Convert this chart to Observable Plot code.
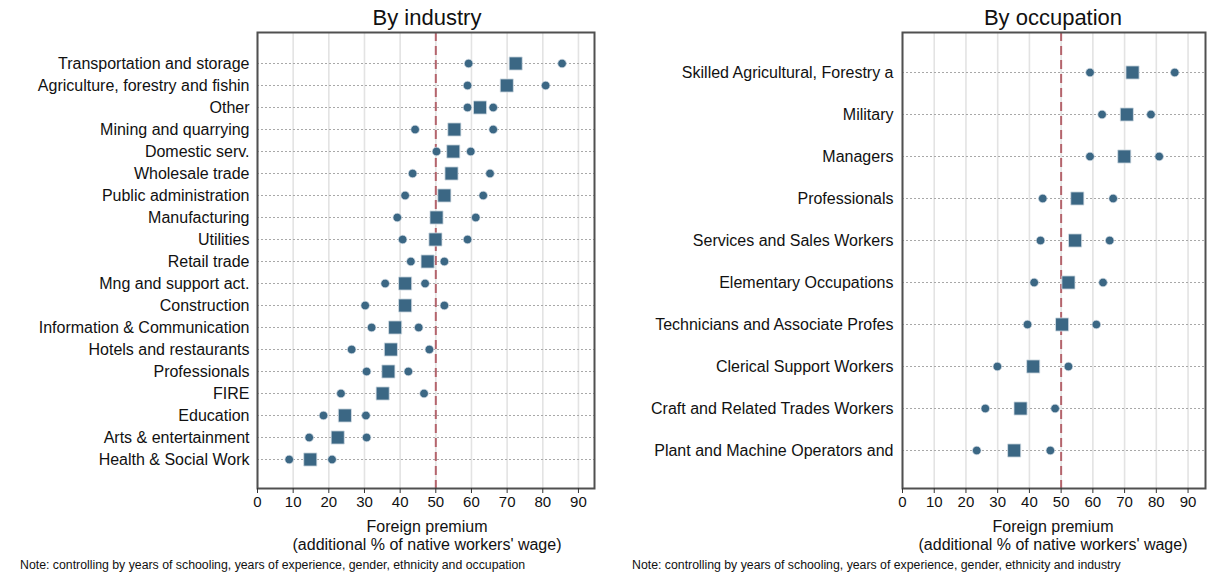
<!DOCTYPE html>
<html>
<head>
<meta charset="utf-8">
<script src="https://cdn.jsdelivr.net/npm/d3@7"></script>
<script src="https://cdn.jsdelivr.net/npm/@observablehq/plot@0.6"></script>
<style>
  html, body { margin: 0; padding: 0; background: #fff; }
  #wrap { position: relative; width: 1225px; height: 575px; font-family: "Liberation Sans", Arial, sans-serif; color: #111; overflow: hidden; }
  .panel { position: absolute; top: 0; }
  .title { position: absolute; top: 6px; font-size: 22px; line-height: 24px; text-align: center; width: 400px; }
  .xlab { position: absolute; top: 518px; font-size: 16px; line-height: 18px; text-align: center; width: 400px; }
  .note { position: absolute; top: 558px; font-size: 12.3px; line-height: 14px; white-space: nowrap; }
</style>
</head>
<body>
<div id="wrap">
  <div class="title" style="left:227px">By industry</div>
  <div class="title" style="left:853px">By occupation</div>
  <div class="xlab" style="left:227px">Foreign premium<br>(additional % of native workers' wage)</div>
  <div class="xlab" style="left:853px">Foreign premium<br>(additional % of native workers' wage)</div>
  <div class="note" style="left:20px">Note: controlling by years of schooling, years of experience, gender, ethnicity and occupation</div>
  <div class="note" style="left:632px">Note: controlling by years of schooling, years of experience, gender, ethnicity and industry</div>
</div>
<script>
const xTicks = [0, 10, 20, 30, 40, 50, 60, 70, 80, 90];
const reference = 50;

const industries = [
  "Transportation and storage", "Agriculture, forestry and fishin", "Other",
  "Mining and quarrying", "Domestic serv.", "Wholesale trade",
  "Public administration", "Manufacturing", "Utilities", "Retail trade",
  "Mng and support act.", "Construction", "Information & Communication",
  "Hotels and restaurants", "Professionals", "FIRE", "Education",
  "Arts & entertainment", "Health & Social Work"
];
const industryPremium = [72.4, 69.9, 62.4, 55.2, 54.9, 54.4, 52.4, 50.2, 49.9, 47.7, 41.4, 41.4, 38.6, 37.4, 36.7, 35.1, 24.5, 22.5, 14.8];
const industryLow     = [59.2, 58.9, 58.9, 44.2, 50.2, 43.5, 41.4, 39.2, 40.7, 43.0, 35.8, 30.2, 32.0, 26.4, 30.6, 23.4, 18.5, 14.5, 8.9];
const industryHigh    = [85.4, 80.8, 66.1, 66.1, 59.8, 65.2, 63.3, 61.2, 58.9, 52.4, 47.0, 52.4, 45.2, 48.2, 42.3, 46.7, 30.4, 30.6, 20.9];

const occupations = [
  "Skilled Agricultural, Forestry a", "Military", "Managers", "Professionals",
  "Services and Sales Workers", "Elementary Occupations",
  "Technicians and Associate Profes", "Clerical Support Workers",
  "Craft and Related Trades Workers", "Plant and Machine Operators and"
];
const occupationPremium = [72.5, 70.7, 69.9, 55.1, 54.4, 52.3, 50.3, 41.2, 37.2, 35.2];
const occupationLow     = [59.1, 62.9, 59.1, 44.2, 43.5, 41.5, 39.4, 29.9, 26.1, 23.4];
const occupationHigh    = [85.8, 78.3, 80.9, 66.4, 65.3, 63.2, 61.1, 52.3, 48.1, 46.6];

const fillColor = "#3b6784";
const outline = "#d5dee6";

function panel(names, premium, low, high, opts) {
  const rows = names.map((n, i) => ({name: n, premium: premium[i], low: low[i], high: high[i]}));
  return Plot.plot({
    width: opts.width,
    height: 520,
    marginLeft: opts.marginLeft,
    marginRight: opts.marginRight,
    marginTop: 32,
    marginBottom: 32,
    style: {fontFamily: "'Liberation Sans', Arial, sans-serif", fontSize: "16px", color: "#111", background: "transparent"},
    x: {domain: opts.domain, label: null},
    y: {type: "point", domain: names, padding: opts.padding, align: opts.align, label: null},
    marks: [
      Plot.gridX(xTicks, {stroke: "#e3e3e3", strokeOpacity: 1, strokeWidth: 1.6}),
      Plot.gridY(names, {stroke: "#a8a8a8", strokeOpacity: 1, strokeWidth: 1.2, strokeDasharray: "2,2"}),
      Plot.ruleX([reference], {stroke: "#b4646c", strokeWidth: 2, strokeDasharray: "9,5"}),
      Plot.dot(rows, {x: "low", y: "name", r: 4.3, fill: fillColor, stroke: outline, strokeWidth: 0.7}),
      Plot.dot(rows, {x: "high", y: "name", r: 4.3, fill: fillColor, stroke: outline, strokeWidth: 0.7}),
      Plot.dot(rows, {x: "premium", y: "name", symbol: "square", r: 7.4, fill: fillColor, stroke: outline, strokeWidth: 0.8}),
      Plot.frame({stroke: "#505050", strokeWidth: 2}),
      Plot.axisX({ticks: xTicks, tickSize: 5, tickPadding: 3, fontSize: 15, label: null, stroke: "#333"}),
      Plot.axisY({tickSize: 0, tickPadding: opts.tickPadding, fontSize: 16, label: null})
    ]
  });
}

const wrap = document.getElementById("wrap");

const left = panel(industries, industryPremium, industryLow, industryHigh, {
  width: 605, marginLeft: 257, marginRight: 11, domain: [0, 94.5],
  padding: 1.278, align: 0.524, tickPadding: 8
});
left.classList.add("panel");
left.style.left = "0px";
wrap.appendChild(left);

const right = panel(occupations, occupationPremium, occupationLow, occupationHigh, {
  width: 605, marginLeft: 282, marginRight: 20, domain: [0, 95.5],
  padding: 0.896, align: 0.515, tickPadding: 9
});
right.classList.add("panel");
right.style.left = "620px";
wrap.appendChild(right);
</script>
</body>
</html>
